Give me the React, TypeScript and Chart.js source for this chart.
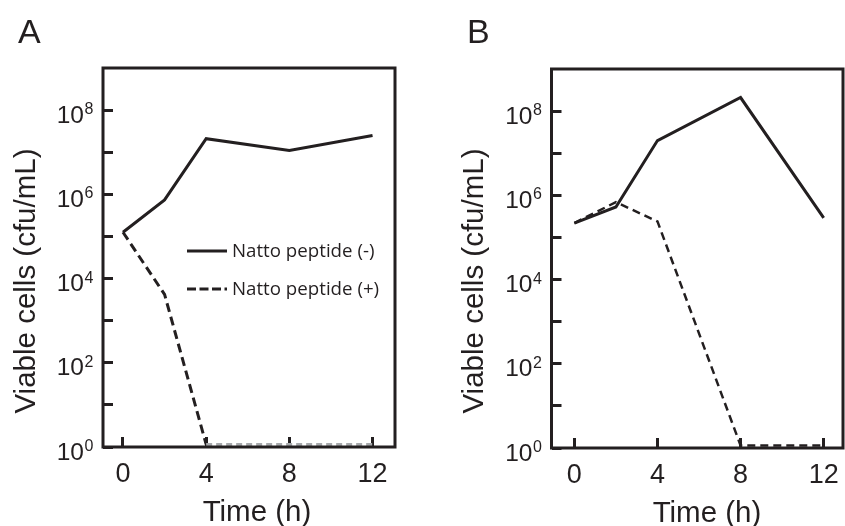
import React, { useEffect, useRef } from "react";
import { Chart, registerables } from "chart.js";

Chart.register(...registerables);

// ---------------- data ----------------
const timeHours = [0, 2, 4, 8, 12];
const xTickHours = [0, 4, 8, 12];
const yTickExponents = [0, 1, 2, 3, 4, 5, 6, 7, 8];
const yLabelledExponents = [0, 2, 4, 6, 8];

const panelAWithout = [1.26e5, 7.4e5, 2.1e7, 1.1e7, 2.5e7];
const panelAWith = [1.26e5, 4.2e3, 1.15, 1.15, 1.15];
const panelBWithout = [2.2e5, 5.3e5, 2.0e7, 2.1e8, 2.9e5];
const panelBWith = [2.2e5, 6.9e5, 2.4e5, 1.15, 1.15];

const seriesNames = ["Natto peptide (-)", "Natto peptide (+)"];
const panelNames = ["A", "B"];
const xAxisTitle = "Time (h)";
const yAxisTitle = "Viable cells (cfu/mL)";
const yTickBase = "10";

// ---------------- style ----------------
const INK = "#231f20";
const GRAY = "#a7a9ac";
const H = 526;
const SANS = '"Liberation Sans", Arial, Helvetica, sans-serif';
const LEGEND_FONT = '18.7px "Open Sans", "Noto Sans", sans-serif';

const decorPlugin = {
  id: "decor",
  afterDatasetsDraw(chart: any) {
    const { ctx, chartArea: a } = chart;
    ctx.save();
    ctx.strokeStyle = INK;
    ctx.lineWidth = 3;
    ctx.setLineDash([]);
    ctx.strokeRect(a.left, a.top, a.right - a.left, a.bottom - a.top);
    ctx.restore();
  },
  afterDraw(chart: any, _args: any, o: any) {
    const ctx = chart.ctx;
    const a = chart.chartArea;
    ctx.save();
    ctx.fillStyle = INK;
    ctx.textBaseline = "alphabetic";

    // y tick labels: 10 with superscript exponent, placed by the y scale
    const ys = chart.scales.y;
    ys.ticks.forEach((t: any) => {
      const e = Math.round(Math.log10(t.value));
      if (!yLabelledExponents.includes(e)) return;
      const py = ys.getPixelForValue(t.value);
      const right = a.left - 9.7;
      ctx.textAlign = "right";
      ctx.font = `16px ${SANS}`;
      const expText = String(e);
      const ew = ctx.measureText(expText).width;
      ctx.fillText(expText, right, py + 4);
      ctx.font = `24.5px ${SANS}`;
      ctx.fillText(yTickBase, right - ew - 0.5, py + 12.5);
    });

    // panel letter
    ctx.font = `34px ${SANS}`;
    ctx.textAlign = "left";
    ctx.fillText(o.panel, o.panelX, o.panelY);
    // x title
    ctx.font = `29.5px ${SANS}`;
    ctx.textAlign = "center";
    ctx.fillText(xAxisTitle, o.xTitleX, o.xTitleY);
    // y title
    ctx.save();
    ctx.translate(o.yTitleX, o.yTitleY);
    ctx.rotate(-Math.PI / 2);
    ctx.fillText(yAxisTitle, 0, 0);
    ctx.restore();
    // legend
    if (o.showLegend) {
      const ds = chart.data.datasets;
      ctx.font = LEGEND_FONT;
      ctx.textAlign = "left";
      ctx.textBaseline = "middle";
      ds.forEach((d: any, i: number) => {
        const y = o.legendY[i];
        ctx.beginPath();
        ctx.strokeStyle = INK;
        ctx.lineWidth = 3;
        ctx.setLineDash(d.borderDash && d.borderDash.length ? [9, 3.5] : []);
        ctx.moveTo(o.legendX1, y);
        ctx.lineTo(o.legendX2, y);
        ctx.stroke();
        ctx.setLineDash([]);
        ctx.fillText(d.label, o.legendTextX, y + 1);
      });
    }
    ctx.restore();
  },
};

type Spec = {
  left: number;
  width: number;
  area: { left: number; top: number; right: number; bottom: number };
  xMin: number;
  xMax: number;
  without: number[];
  withP: number[];
  grayFloor: boolean;
  dash: number[];
  dashWidth: number;
  decor: any;
};

function buildConfig(s: Spec): any {
  const isFloorSeg = (c: any) => c.p0.parsed.y <= 1.2 && c.p1.parsed.y <= 1.2;
  return {
    type: "line",
    data: {
      datasets: [
        {
          label: seriesNames[0],
          data: timeHours.map((t, i) => ({ x: t, y: s.without[i] })),
          borderColor: INK,
          borderWidth: 3,
          pointRadius: 0,
          tension: 0,
          borderJoinStyle: "miter",
          borderDash: [],
        },
        {
          label: seriesNames[1],
          data: timeHours.map((t, i) => ({ x: t, y: s.withP[i] })),
          borderColor: INK,
          borderWidth: s.dashWidth,
          pointRadius: 0,
          tension: 0,
          borderJoinStyle: "miter",
          borderDash: s.dash,
          segment: s.grayFloor
            ? {
                borderColor: (c: any) => (isFloorSeg(c) ? GRAY : undefined),
                borderDash: (c: any) => (isFloorSeg(c) ? [6, 4] : undefined),
              }
            : undefined,
        },
      ],
    },
    options: {
      responsive: false,
      maintainAspectRatio: false,
      animation: false,
      events: [],
      layout: {
        padding: { top: s.area.top, right: s.width - s.area.right, bottom: 0, left: 0 },
      },
      plugins: {
        legend: { display: false },
        tooltip: { enabled: false },
        title: { display: false },
        decor: s.decor,
      },
      scales: {
        x: {
          type: "linear",
          position: "bottom",
          min: s.xMin,
          max: s.xMax,
          afterBuildTicks: (sc: any) => {
            sc.ticks = xTickHours.map((v) => ({ value: v }));
          },
          afterFit: (sc: any) => {
            sc.height = H - s.area.bottom;
            sc.paddingLeft = 0;
            sc.paddingRight = 0;
          },
          border: { display: false },
          grid: {
            drawOnChartArea: false,
            drawTicks: true,
            tickLength: -10,
            lineWidth: 3,
            color: INK,
          },
          ticks: {
            autoSkip: false,
            maxRotation: 0,
            padding: 21,
            color: INK,
            font: { family: SANS, size: 27, lineHeight: 1.2 },
            callback: (v: any) => String(v),
          },
        },
        y: {
          type: "logarithmic",
          position: "left",
          min: 1,
          max: 1e9,
          afterBuildTicks: (sc: any) => {
            sc.ticks = yTickExponents.map((e) => ({ value: Math.pow(10, e) }));
          },
          afterFit: (sc: any) => {
            sc.width = s.area.left;
            sc.paddingTop = 0;
            sc.paddingBottom = 0;
          },
          border: { display: false },
          grid: {
            drawOnChartArea: false,
            drawTicks: true,
            tickLength: -10,
            lineWidth: 3,
            color: INK,
          },
          ticks: {
            display: false,
            autoSkip: false,
          },
        },
      },
    },
    plugins: [decorPlugin],
  };
}

const specs: Spec[] = [
  {
    left: 0,
    width: 422,
    area: { left: 103, top: 68, right: 395, bottom: 447 },
    xMin: -0.96,
    xMax: 13.08,
    without: panelAWithout,
    withP: panelAWith,
    grayFloor: true,
    dash: [9, 5],
    dashWidth: 3,
    decor: {
      panel: panelNames[0],
      panelX: 18,
      panelY: 43,
      xTitleX: 257,
      xTitleY: 521,
      yTitleX: 35,
      yTitleY: 281,
      showLegend: true,
      legendX1: 187,
      legendX2: 227,
      legendTextX: 232,
      legendY: [251, 289],
    },
  },
  {
    left: 422,
    width: 423,
    area: { left: 129.5, top: 69, right: 421, bottom: 448 },
    xMin: -1.1,
    xMax: 12.93,
    without: panelBWithout,
    withP: panelBWith,
    grayFloor: false,
    dash: [8, 5],
    dashWidth: 2.5,
    decor: {
      panel: panelNames[1],
      panelX: 45,
      panelY: 43,
      xTitleX: 285,
      xTitleY: 522,
      yTitleX: 61,
      yTitleY: 281,
      showLegend: false,
      legendX1: 0,
      legendX2: 0,
      legendTextX: 0,
      legendY: [0, 0],
    },
  },
];

function Panel({ spec }: { spec: Spec }) {
  const ref = useRef<HTMLCanvasElement>(null);
  useEffect(() => {
    const chart = new Chart(ref.current as HTMLCanvasElement, buildConfig(spec));
    let alive = true;
    const fonts: any = (document as any).fonts;
    if (fonts && fonts.load) {
      Promise.all([
        fonts.load(LEGEND_FONT, "Natto peptide"),
        fonts.load(`24px ${SANS}`, "10"),
      ])
        .then(() => {
          if (alive) chart.update();
        })
        .catch(() => {});
    }
    return () => {
      alive = false;
      chart.destroy();
    };
  }, [spec]);
  return (
    <canvas
      ref={ref}
      width={spec.width}
      height={H}
      style={{ position: "absolute", left: spec.left, top: 0, width: spec.width, height: H }}
    />
  );
}

export default function App() {
  return (
    <div
      style={{
        position: "absolute",
        left: 0,
        top: 0,
        width: 845,
        height: H,
        overflow: "hidden",
        background: "#ffffff",
      }}
    >
      {specs.map((s, i) => (
        <Panel key={i} spec={s} />
      ))}
    </div>
  );
}
